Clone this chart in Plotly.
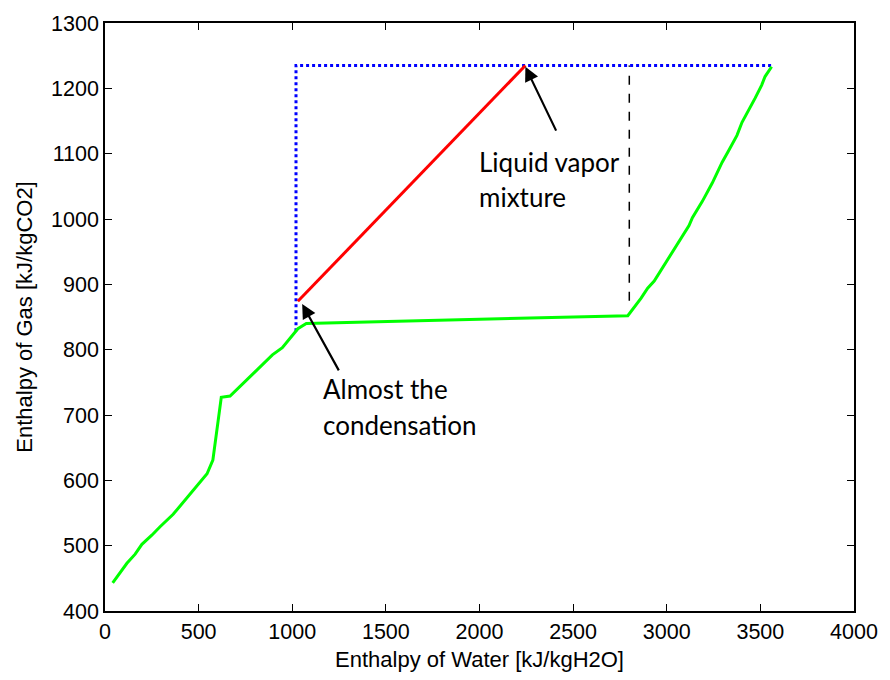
import plotly.graph_objects as go

# Composite curve of the gas stream (water enthalpy vs gas enthalpy)
water_h = [41, 117, 161, 197, 250, 294, 364, 456, 506, 545, 576, 621, 668,
           894, 947, 1000, 1030, 1075, 2792, 2863, 2898, 2933, 2995, 3066,
           3119, 3137, 3190, 3243, 3296, 3331, 3375, 3402, 3446, 3472, 3507,
           3525, 3560]
gas_h = [443, 473, 487, 502, 516, 529, 548, 580, 597, 610, 631, 727, 729,
         792, 803, 821, 832, 840, 852, 879, 894, 905, 934, 967,
         990, 1002, 1027, 1055, 1087, 1105, 1128, 1148, 1170, 1185, 1205,
         1218, 1233]

# Envelope (dotted blue)
env_x = [1020, 1020, 3560]
env_y = [828, 1235, 1235]

# Liquid-vapor mixture line (red)
mix_x = [1030, 2245]
mix_y = [874, 1235]

# Saturation marker (dashed black)
sat_x = [2800, 2800]
sat_y = [875, 1235]

fig = go.Figure()
fig.add_trace(go.Scatter(x=env_x, y=env_y, mode="lines",
                         line=dict(color="#0000ff", width=3, dash="dot")))
fig.add_trace(go.Scatter(x=sat_x, y=sat_y, mode="lines",
                         line=dict(color="black", width=1.5, dash="dash")))
fig.add_trace(go.Scatter(x=mix_x, y=mix_y, mode="lines",
                         line=dict(color="#ff0000", width=3)))
fig.add_trace(go.Scatter(x=water_h, y=gas_h, mode="lines",
                         line=dict(color="#00ff00", width=3)))

# Arrows pointing at the two ends of the mixture line
fig.add_annotation(x=2245, y=1233, ax=2413, ay=1133, xref="x", yref="y",
                   axref="x", ayref="y", text="", showarrow=True,
                   arrowhead=2, arrowsize=1.3, arrowwidth=2.2, arrowcolor="black")
fig.add_annotation(x=1053, y=870, ax=1253, ay=766, xref="x", yref="y",
                   axref="x", ayref="y", text="", showarrow=True,
                   arrowhead=2, arrowsize=1.3, arrowwidth=2.2, arrowcolor="black")

# Label text, one annotation per line
ann_font = dict(family="Lato, Calibri, sans-serif", size=26, color="black")
label_lines = [("Liquid vapor", 1989, 1087), ("mixture", 1989, 1034),
               ("Almost the", 1155, 740), ("condensation", 1155, 685)]
for txt, lx, ly in label_lines:
    fig.add_annotation(x=lx, y=ly, xref="x", yref="y", text=txt,
                       showarrow=False, xanchor="left", yanchor="middle",
                       font=ann_font)

axis_common = dict(showline=True, linecolor="black", linewidth=1.5, mirror="allticks",
                   ticks="inside", ticklen=7, tickwidth=1.2, tickcolor="black",
                   showgrid=False, zeroline=False,
                   tickfont=dict(family="Liberation Sans, Arial, sans-serif",
                                 size=21.5, color="black"),
                   title_font=dict(family="Liberation Sans, Arial, sans-serif",
                                   size=22, color="black"))

fig.update_xaxes(range=[0, 4000], dtick=500, tick0=0,
                 title_text="Enthalpy of Water [kJ/kgH2O]", title_standoff=9,
                 **axis_common)
fig.update_yaxes(range=[400, 1300], dtick=100, tick0=400,
                 title_text="Enthalpy of Gas [kJ/kgCO2]", title_standoff=12,
                 **axis_common)

fig.update_layout(width=890, height=680, showlegend=False,
                  plot_bgcolor="white", paper_bgcolor="white",
                  margin=dict(l=105, r=30, t=14, b=69))

fig.write_html("out.html")
